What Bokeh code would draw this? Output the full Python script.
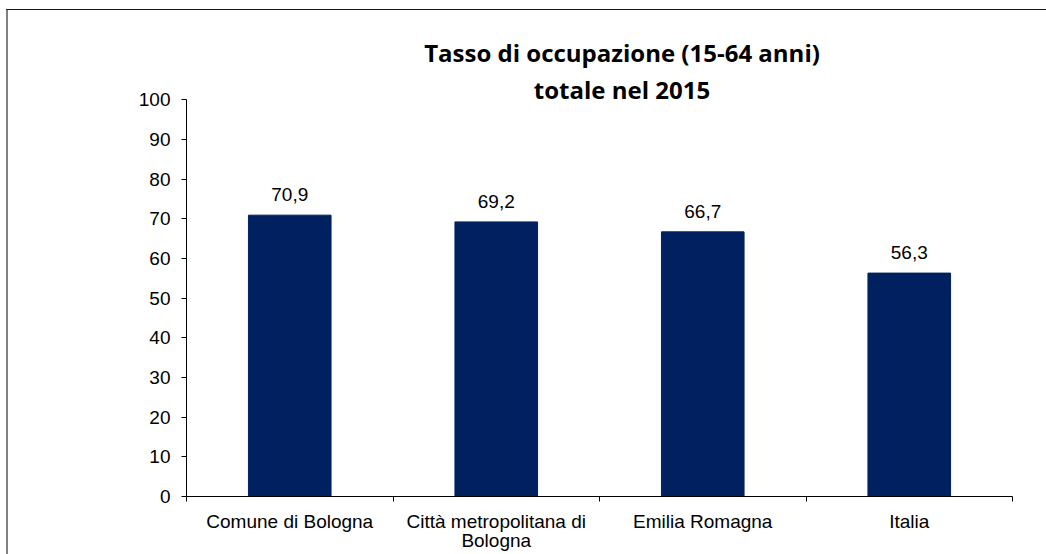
from bokeh.plotting import figure
from bokeh.models import (ColumnDataSource, Range1d, LinearAxis,
                          FixedTicker, LabelSet, Label, InlineStyleSheet)
from bokeh.core.properties import value
from bokeh.embed import file_html
from bokeh.resources import INLINE

# ---- data ----
categories = ["Comune di Bologna", "Città metropolitana di\nBologna",
              "Emilia Romagna", "Italia"]
values = [70.9, 69.2, 66.7, 56.3]
y_ticks = [0, 10, 20, 30, 40, 50, 60, 70, 80, 90, 100]
title_lines = ["Tasso di occupazione (15-64 anni)", "totale nel 2015"]

value_labels = [f"{v:.1f}".replace(".", ",") for v in values]

BAR_COLOR = "#002060"
FONT = "Liberation Sans"
TITLE_FONT = "Open Sans"
SMALL = "19px"

n = len(categories)
# category slot centres on a numeric axis (slot i spans [i, i+1])
slot_centres = [i + 0.5 for i in range(n)]

src = ColumnDataSource(data=dict(x=slot_centres, cat=categories,
                                 val=values, lab=value_labels))

p = figure(width=1046, height=554,
           x_range=Range1d(0, n),
           y_range=Range1d(0, 125.0),
           x_axis_location=None,
           output_backend="svg", toolbar_location=None,
           min_border_left=186, min_border_right=34,
           min_border_top=0, min_border_bottom=58)
# chart-area frame (top and left edges) painted behind a transparent canvas
p.stylesheets = [InlineStyleSheet(css=(
    ":host { background: "
    "linear-gradient(#1a1a1a,#1a1a1a) 6px 9px / 100% 1px no-repeat, "
    "linear-gradient(#808080,#808080) 6px 9px / 2px 100% no-repeat, "
    "#ffffff; }"))]
p.outline_line_color = None
p.background_fill_color = None
p.border_fill_color = None

p.vbar(x="x", top="val", width=0.4, source=src,
       fill_color=BAR_COLOR, line_color=BAR_COLOR)

xaxis = LinearAxis(ticker=FixedTicker(ticks=slot_centres,
                                      minor_ticks=list(range(n + 1))),
                   major_label_overrides={c: lab for c, lab in zip(slot_centres, categories)})
xaxis.major_tick_line_color = None
xaxis.major_tick_in = 0
xaxis.major_tick_out = 0
xaxis.minor_tick_in = 0
xaxis.minor_tick_out = 5
xaxis.minor_tick_line_color = "#000000"
xaxis.axis_line_color = "#000000"
xaxis.major_label_standoff = 9
xaxis.major_label_text_font = FONT
xaxis.major_label_text_font_size = SMALL
xaxis.major_label_text_color = "#000000"
xaxis.major_label_text_line_height = 0.95
p.add_layout(xaxis, "below")

yaxis = p.yaxis[0]
yaxis.ticker = FixedTicker(ticks=y_ticks)
yaxis.bounds = (0, 100)
yaxis.minor_tick_line_color = None
yaxis.major_tick_in = 0
yaxis.major_tick_out = 5
yaxis.major_tick_line_color = "#000000"
yaxis.axis_line_color = "#000000"
yaxis.major_label_standoff = 11
yaxis.major_label_text_font = FONT
yaxis.major_label_text_font_size = SMALL
yaxis.major_label_text_color = "#000000"

p.grid.visible = False

labels = LabelSet(x="x", y="val", text="lab", source=src,
                  y_offset=14, text_align="center", text_baseline="alphabetic",
                  text_font=value(FONT), text_font_size=value(SMALL),
                  text_color=value("#000000"))
p.add_layout(labels)

for txt, yv in zip(title_lines, [111.85, 102.45]):
    p.add_layout(Label(x=2.109, y=yv, text=txt,
                       text_align="center", text_baseline="alphabetic",
                       text_font=TITLE_FONT, text_font_style="bold",
                       text_font_size="24px", text_color="#000000"))

with open("out.html", "w", encoding="utf-8") as f:
    f.write(file_html(p, INLINE))
